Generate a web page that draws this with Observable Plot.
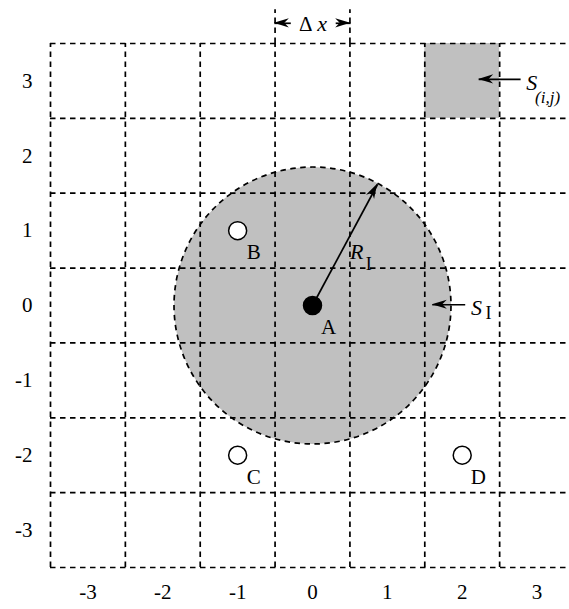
<!DOCTYPE html>
<html>
<head>
<meta charset="utf-8">
<script src="https://cdn.jsdelivr.net/npm/d3@7"></script>
<script src="https://cdn.jsdelivr.net/npm/@observablehq/plot@0.6"></script>
<style>
  html, body { margin: 0; padding: 0; background: white; overflow: hidden; }
</style>
</head>
<body>
<div id="chart"></div>
<script>
// ---- data ----
const tickValues = [-3, -2, -1, 0, 1, 2, 3];
const gridLines = [-3.5, -2.5, -1.5, -0.5, 0.5, 1.5, 2.5, 3.5];
const pointNames = ["A", "B", "C", "D"];
const pointX = [0, -1, -1, 2];
const pointY = [0, 1, -2, -2];
const pointFilled = [true, false, false, false];
const influenceRadius = 1.85;           // R_I
const cellX = [1.5, 2.5];               // S_(i,j) cell bounds
const cellY = [2.5, 3.5];
const radiusTip = [0.87, 1.62];         // end of R_I arrow
const deltaLines = [-0.5, 0.5];         // Δx marker lines

// ---- layout ----
const W = 569, H = 609;
const mL = 50, mR = -5, mT = 43, mB = 42;
const xDomain = [-3.5, 3.5], yDomain = [-3.5, 3.5];
const pxPerUnit = (W - mL - mR) / (xDomain[1] - xDomain[0]);
const gray = "#c0c0c0";
const serif = "'Liberation Serif', 'Times New Roman', serif";
const dash = "5.5,4.5";
const gridW = 1.7;

const points = pointNames.map((n, i) => ({name: n, x: pointX[i], y: pointY[i], filled: pointFilled[i]}));
const center = [{x: 0, y: 0}];

const arrows = [
  {x1: 0, y1: 0, x2: radiusTip[0], y2: radiusTip[1]},
  {x1: 2.04, y1: 0.01, x2: 1.60, y2: 0.01},
  {x1: 2.78, y1: 3.02, x2: 2.22, y2: 3.02},
  {x1: -0.29, y1: 3.77, x2: -0.51, y2: 3.77},
  {x1: 0.31, y1: 3.77, x2: 0.51, y2: 3.77}
];

// custom mark: LaTeX-like filled arrowheads placed through the plot's scales
const headPath = "M0,0L-15,-4.6L-10.5,0L-15,4.6Z";
function arrowHeads(index, scales) {
  const g = d3.create("svg:g");
  for (const a of arrows) {
    const px0 = scales.x(a.x1), py0 = scales.y(a.y1);
    const px = scales.x(a.x2), py = scales.y(a.y2);
    const ang = Math.atan2(py - py0, px - px0) * 180 / Math.PI;
    g.append("path")
      .attr("d", headPath)
      .attr("transform", `translate(${px},${py}) rotate(${ang})`)
      .attr("fill", "black");
  }
  return g.node();
}

const italicLabels = [
  {x: 0.59, y: 0.72, t: "R"},
  {x: 2.19, y: -0.03, t: "S"},
  {x: 2.93, y: 2.97, t: "S"},
  {x: 0.13, y: 3.76, t: "x"}
];
const uprightLabels = [
  {x: 0.75, y: 0.55, t: "I", s: 18},
  {x: 2.35, y: -0.11, t: "I", s: 18},
  {x: -0.09, y: 3.76, t: "Δ", s: 21}
];
const subItalic = [{x: 3.14, y: 2.78, t: "(i,j)"}];

const chart = Plot.plot({
  width: W, height: H,
  marginLeft: mL, marginRight: mR, marginTop: mT, marginBottom: mB,
  style: {fontFamily: serif, fontSize: "21px", background: "white", color: "black"},
  x: {domain: xDomain, ticks: tickValues, tickSize: 0, tickPadding: 17, tickFormat: d => String(d), label: null},
  y: {domain: yDomain, ticks: tickValues, tickSize: 0, tickPadding: 18, tickFormat: d => String(d), label: null},
  marks: [
    // shaded cell
    Plot.rect([{x1: cellX[0], x2: cellX[1], y1: cellY[0], y2: cellY[1]}], {x1: "x1", x2: "x2", y1: "y1", y2: "y2", fill: gray}),
    // influence disc
    Plot.dot(center, {x: "x", y: "y", r: influenceRadius * pxPerUnit, fill: gray, stroke: "none"}),
    // grid
    Plot.ruleY(gridLines, {x1: xDomain[0], x2: xDomain[1], stroke: "black", strokeWidth: gridW, strokeDasharray: dash}),
    Plot.ruleX(gridLines, {y1: yDomain[0], y2: yDomain[1], stroke: "black", strokeWidth: gridW, strokeDasharray: dash}),
    // Δx extension lines
    Plot.ruleX(deltaLines, {y1: 3.5, y2: 3.95, stroke: "black", strokeWidth: gridW, strokeDasharray: dash}),
    // disc outline
    Plot.dot(center, {x: "x", y: "y", r: influenceRadius * pxPerUnit, fill: "none", stroke: "black", strokeWidth: gridW, strokeDasharray: dash}),
    // arrows: shafts + filled heads
    Plot.link(arrows, {x1: "x1", y1: "y1", x2: "x2", y2: "y2", stroke: "black", strokeWidth: 1.7}),
    arrowHeads,
    // points
    Plot.dot(points, {x: "x", y: "y", r: 9, fill: d => d.filled ? "black" : "white", stroke: "black", strokeWidth: 1.5}),
    Plot.text(points, {x: "x", y: "y", text: "name", dx: 16, dy: 22, fontSize: 21, fontFamily: serif, fill: "black"}),
    // annotations
    Plot.text(italicLabels, {x: "x", y: "y", text: "t", fontSize: 22, fontStyle: "italic", fontFamily: serif, fill: "black"}),
    Plot.text(uprightLabels, {x: "x", y: "y", text: "t", fontSize: d => d.s, fontFamily: serif, fill: "black"}),
    Plot.text(subItalic, {x: "x", y: "y", text: "t", fontSize: 17, fontStyle: "italic", fontFamily: serif, fill: "black"})
  ]
});
document.getElementById("chart").appendChild(chart);
</script>
</body>
</html>
